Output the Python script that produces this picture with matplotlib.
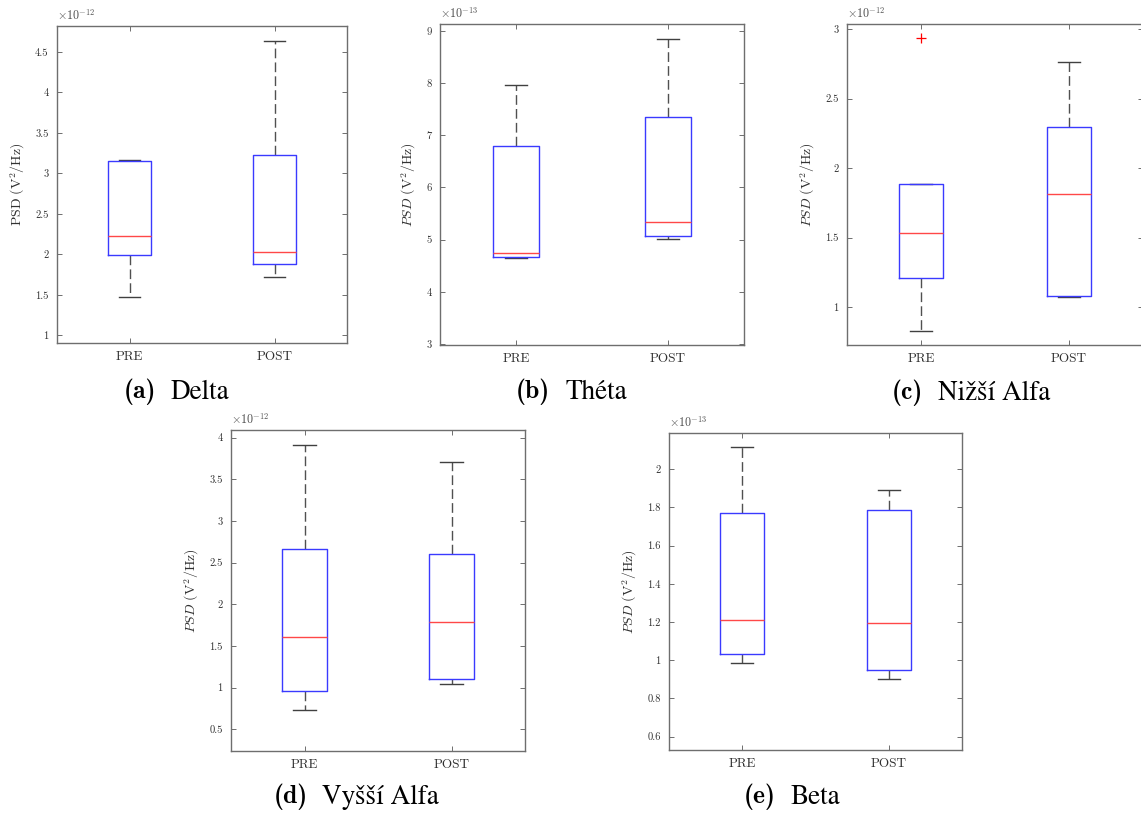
import numpy as np
import matplotlib.pyplot as plt
from matplotlib.ticker import MultipleLocator, FuncFormatter

plt.rcParams["font.family"] = ["cmr10", "DejaVu Serif"]
plt.rcParams["mathtext.fontset"] = "cm"
plt.rcParams["axes.unicode_minus"] = False

groups = ["PRE", "POST"]

# five-number summaries: [lower whisker, Q1, median, Q3, upper whisker]
# values are in units of 10^exponent V^2/Hz
delta_pre = [1.47, 1.986, 2.228, 3.15, 3.16]
delta_post = [1.72, 1.875, 2.023, 3.233, 4.636]
theta_pre = [4.655, 4.657, 4.747, 6.79, 7.96]
theta_post = [5.02, 5.073, 5.335, 7.353, 8.847]
lalpha_pre = [0.825, 1.209, 1.532, 1.885, 1.885]
lalpha_post = [1.075, 1.081, 1.813, 2.295, 2.765]
halpha_pre = [0.728, 0.96, 1.604, 2.668, 3.916]
halpha_post = [1.048, 1.108, 1.784, 2.608, 3.708]
beta_pre = [0.988, 1.032, 1.213, 1.772, 2.117]
beta_post = [0.903, 0.951, 1.194, 1.789, 1.889]

# outliers
lalpha_pre_out = [2.933]

exponents = [-12, -13, -12, -12, -13]
letters = ["a", "b", "c", "d", "e"]
bands = ["Delta", "Théta", "Nižší Alfa", "Vyšší Alfa", "Beta"]

W, H = 1141, 817


def px_axes(left, right, top, bottom):
    return [left / W, 1 - bottom / H, (right - left) / W, (bottom - top) / H]


# cap = (x of "(a)", x of band name, y centre) in pixels
panels = [
    dict(pre=delta_pre, post=delta_post, out=[[], []],
         rect=px_axes(57, 347, 26, 343), ylim=(0.905, 4.82), step=0.5,
         cap=(124, 171, 392), italic=False),
    dict(pre=theta_pre, post=theta_post, out=[[], []],
         rect=px_axes(440, 744, 24, 345), ylim=(2.98, 9.13), step=1,
         cap=(516, 566, 392), italic=True),
    dict(pre=lalpha_pre, post=lalpha_post, out=[lalpha_pre_out, []],
         rect=px_axes(847, 1143, 24, 345), ylim=(0.727, 3.036), step=0.5,
         cap=(891.5, 937.5, 393), italic=True),
    dict(pre=halpha_pre, post=halpha_post, out=[[], []],
         rect=px_axes(231, 525, 430, 751), ylim=(0.24, 4.092), step=0.5,
         cap=(274, 322, 797), italic=True),
    dict(pre=beta_pre, post=beta_post, out=[[], []],
         rect=px_axes(669, 962, 433, 750), ylim=(0.53, 2.19), step=0.2,
         cap=(744, 790, 797), italic=True),
]

spine_col = "#6e6e6e"
text_col = "#303030"

fig = plt.figure(figsize=(W / 100, H / 100), dpi=100)

for i, p in enumerate(panels):
    ax = fig.add_axes(p["rect"])
    stats = []
    for name, s, fl in zip(groups, [p["pre"], p["post"]], p["out"]):
        stats.append(dict(label=name, whislo=s[0], q1=s[1], med=s[2],
                          q3=s[3], whishi=s[4], fliers=fl))
    ax.bxp(stats, positions=[1, 2], widths=0.3,
           boxprops=dict(color="#3a3aff", lw=1.0, zorder=3),
           medianprops=dict(color="#ff4848", lw=1.0, zorder=3),
           whiskerprops=dict(color="#505050", lw=1.0, linestyle=(0, (7, 3))),
           capprops=dict(color="#404040", lw=1.0),
           flierprops=dict(marker="+", markeredgecolor="red", markersize=7,
                           markeredgewidth=0.9))
    ax.set_xlim(0.5, 2.5)
    ax.set_ylim(*p["ylim"])
    ax.yaxis.set_major_locator(MultipleLocator(p["step"]))
    ax.yaxis.set_major_formatter(FuncFormatter(lambda v, pos: "%g" % round(v, 6)))
    ax.set_xticks([1, 2])
    ax.set_xticklabels(groups)

    for sp in ax.spines.values():
        sp.set_color(spine_col)
        sp.set_linewidth(1.0)
    ax.tick_params(direction="in", length=3.5, width=0.7, color=spine_col,
                   top=True, right=True, labelcolor=text_col)
    ax.tick_params(axis="y", labelsize=7.6, pad=6)
    ax.tick_params(axis="x", labelsize=9.5, pad=6)

    if p["italic"]:
        ylab = r"$PSD\ (\mathrm{V}^2/\mathrm{Hz})$"
    else:
        ylab = r"$\mathrm{PSD}\ (\mathrm{V}^2/\mathrm{Hz})$"
    ax.set_ylabel(ylab, fontsize=10, color=text_col, labelpad=6)

    ax.text(0.0, 1.01, r"$\times10^{%d}$" % exponents[i], transform=ax.transAxes,
            ha="left", va="bottom", fontsize=8.7, color="#505050")

    # sub-figure caption: bold letter, then the band name
    lx, nx, cy = p["cap"]
    fig.text(lx / W, 1 - cy / H, "(%s)" % letters[i], family="cmb10",
             ha="left", va="center", fontsize=18.5, color="black")
    fig.text(nx / W, 1 - cy / H, bands[i], family="STIXGeneral",
             ha="left", va="center", fontsize=19.5, color="black")

fig.savefig("out.png", dpi=100)
